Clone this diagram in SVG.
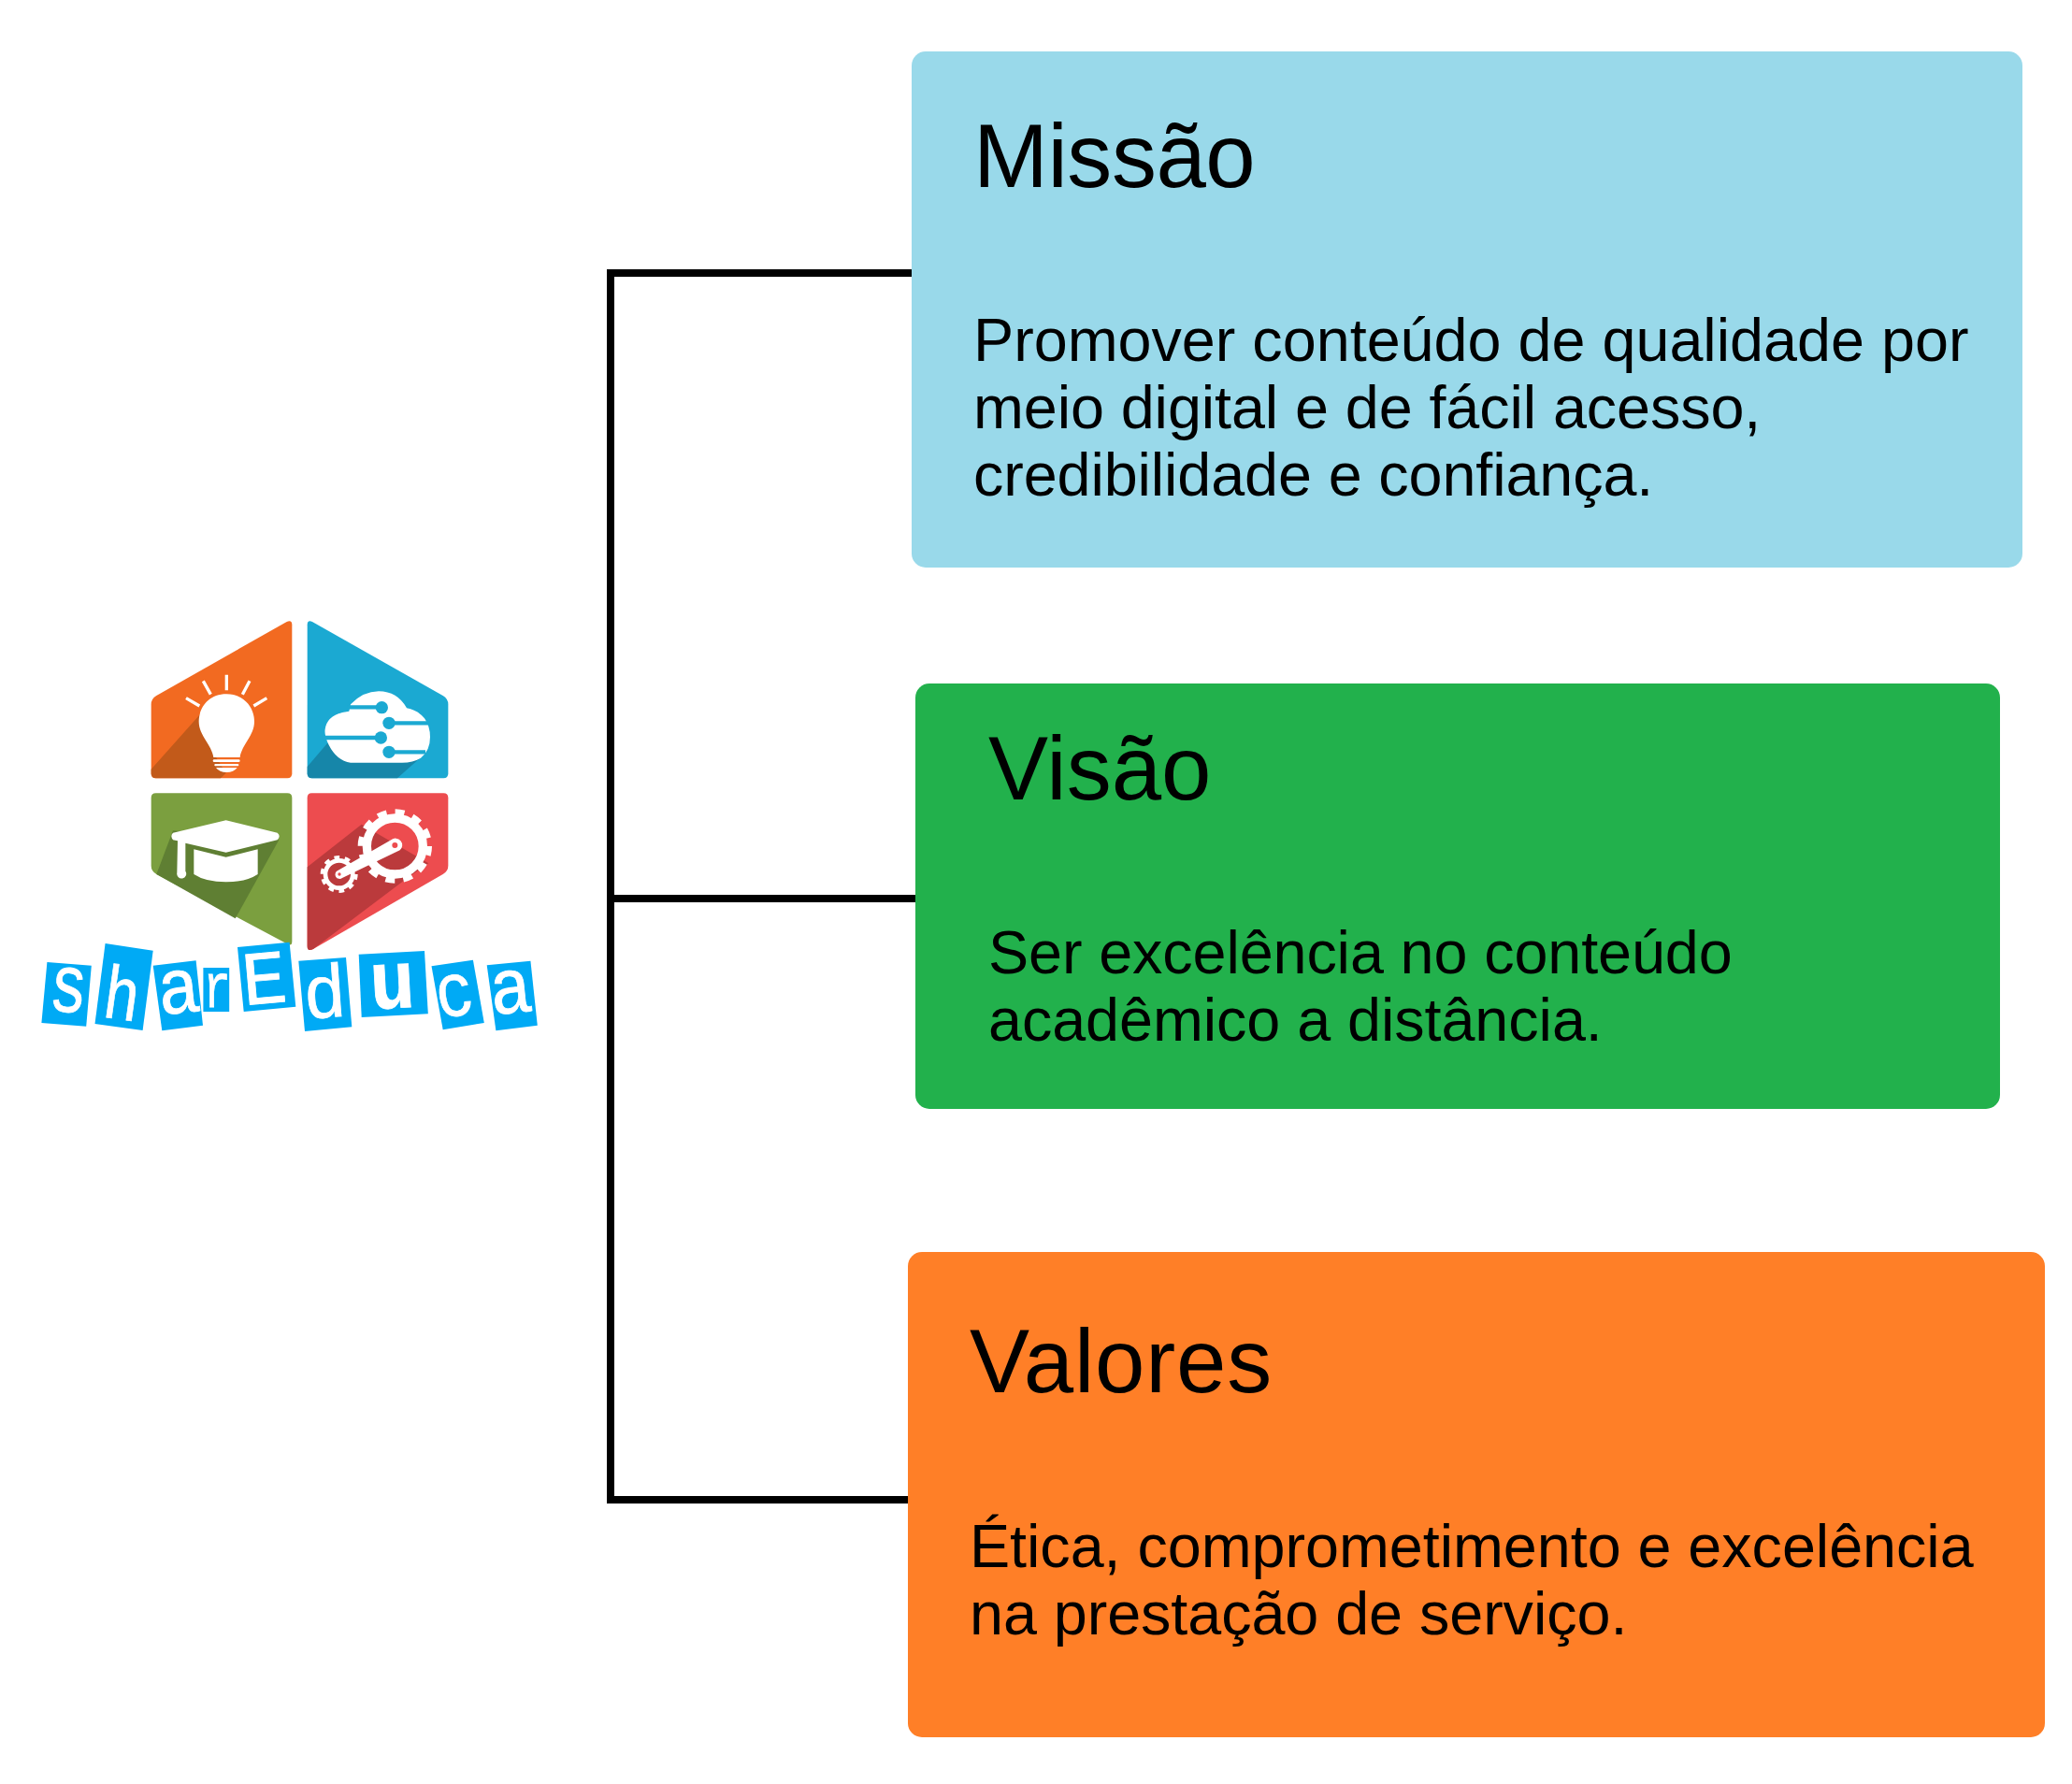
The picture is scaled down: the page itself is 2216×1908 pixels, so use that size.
<svg xmlns="http://www.w3.org/2000/svg" width="2216" height="1908" viewBox="0 0 2216 1908">
<style>
.t{font-family:"Liberation Sans",Arial,sans-serif;fill:#000}
.h{font-size:96px}
.b{font-size:64.7px}
.c{fill:none;stroke:#000;stroke-width:8}
.box{rx:15px}
.tile{fill:#00aaf5}
.l{font-family:"Liberation Mono","Courier New",monospace;fill:#fff;stroke:#fff;stroke-width:.8;text-anchor:middle;font-size:80px}
</style>
<rect width="2216" height="1908" fill="#fff"/>
<g id="connectors">
<path class="c" d="M975 292H653V1604H971"/>
<path class="c" d="M653 961H980"/>
</g>
<g id="logo">
<g transform="translate(130 640) scale(.33333)">
<path fill="#f26a21" d="M530 75Q547 68 547 85V562Q547 577 532 577H110Q95 577 95 562V340Q95 322 112 312Z"/>
<path fill="#c25a1a" d="M95 548L252 372L300 505L335 560L318 577H110Q95 577 95 562Z"/>
<g fill="none" stroke="#fff" stroke-width="10"><path d="M337 245V295M262 265L286 308M411 265L388 308M207 320L250 345M466 320L424 345"/></g>
<path fill="#fff" d="M337 307C275 307 248 355 248 395C248 440 290 470 295 510H380C385 470 426 440 426 395C426 355 398 307 337 307Z"/>
<g fill="#fff"><rect x="293" y="517" width="87" height="8" rx="4"/><rect x="298" y="531" width="78" height="7" rx="3"/><path d="M303 543H371Q360 558 337 558T303 543Z"/></g>
<path fill="#1ba9d2" d="M612 75Q596 68 596 85V562Q596 577 611 577H1033Q1048 577 1048 562V340Q1048 322 1031 312Z"/>
<path fill="#1686a9" d="M596 540L660 465L960 510L885 577H611Q596 577 596 562Z"/>
<path fill="#fff" d="M735 340Q775 298 825 298Q885 298 915 352Q950 358 972 385Q990 410 990 445Q990 490 960 512Q935 527 900 527H735Q690 520 665 470Q650 440 653 420Q660 370 730 362Z"/>
<g fill="none" stroke="#1ba9d2" stroke-width="13"><path d="M725 349H835M860 400H985M645 447H830M860 493H975"/></g>
<g fill="#1ba9d2"><circle cx="835" cy="350" r="20"/><circle cx="858" cy="400" r="20"/><circle cx="832" cy="447" r="20"/><circle cx="858" cy="493" r="20"/></g>
<path fill="#7b9f3f" d="M110 625H532Q547 625 547 640V1100Q547 1118 530 1108L112 885Q95 875 95 858V640Q95 625 110 625Z"/>
<path fill="#5f7f33" d="M112 885L165 745L505 775L365 1027Z"/>
<path fill="#fff" d="M335 712L500 752Q512 762 500 775L335 815L205 785V875A15 15 0 1 1 178 880L180 778L165 775Q155 762 165 752Z"/>
<path fill="#fff" d="M232 805L335 830L437 805V885Q400 910 335 910T232 885Z"/>
<path fill="#ed4c4f" d="M610 625H1033Q1048 625 1048 640V858Q1048 875 1031 885L615 1125Q596 1135 596 1115V640Q596 625 610 625Z"/>
<path fill="#bb3a3c" d="M596 862L770 725L985 850L920 895L615 1125Q596 1135 596 1115Z"/>
<circle cx="877" cy="795" r="90" fill="none" stroke="#fff" stroke-width="28"/>
<circle cx="877" cy="795" r="110" fill="none" stroke="#fff" stroke-width="18" stroke-dasharray="30 27.6"/>
<circle cx="698" cy="885" r="44" fill="none" stroke="#fff" stroke-width="14"/>
<circle cx="698" cy="885" r="54" fill="none" stroke="#fff" stroke-width="12" stroke-dasharray="17 16.9"/>
<path fill="#fff" d="M865 775A20 20 0 1 1 893 808L708 897A14 14 0 1 1 694 873Z"/>
<circle cx="877" cy="792" r="9" fill="#ed4c4f"/><circle cx="699" cy="885" r="5" fill="#ed4c4f"/>
</g>
<g>
<polygon class="tile" points="50.4,1029 97.8,1032.7 92.2,1097.7 44.4,1094"/>
<polygon class="tile" points="112.6,1009 163.7,1016.7 152.6,1102 101.5,1095"/>
<polygon class="tile" points="163.7,1032.7 209.6,1027.3 217,1096.7 173.3,1102.3"/>
<polygon class="tile" points="217.4,1035 245.2,1035 245.2,1082 217.4,1082"/>
<polygon class="tile" points="254,1013 309.6,1007.7 316.3,1076.7 260.7,1082"/>
<polygon class="tile" points="319.3,1027.7 370,1024 376.3,1098.3 326,1103"/>
<polygon class="tile" points="383.7,1020.7 454,1017 457.8,1084.3 386.7,1088"/>
<polygon class="tile" points="461.5,1033.3 505.9,1026.7 517.8,1094 473.7,1101.3"/>
<polygon class="tile" points="520.7,1032.3 567.4,1027.7 574.8,1096.7 530.4,1102.3"/>
<text class="l" transform="translate(71 1082) rotate(5) scale(.85 1.1)">s</text>
<text class="l" transform="translate(127 1090) rotate(8) scale(.8 1)">h</text>
<text class="l" transform="translate(194 1083) rotate(-6) scale(.95 1.05)">a</text>
<text class="l" transform="translate(232 1077) scale(.75 1)" style="font-size:66px">r</text>
<text class="l" transform="translate(285 1073) rotate(-5) scale(1 1.02)">E</text>
<text class="l" transform="translate(349 1088) rotate(-4) scale(.95 1)">d</text>
<text class="l" transform="translate(421 1078) rotate(-3) scale(1 1.1)" font-weight="700">u</text>
<text class="l" transform="translate(490 1086) rotate(-9) scale(.85 1.02)">c</text>
<text class="l" transform="translate(549 1083) rotate(-6) scale(.95 1.05)">a</text>
</g>
</g>
<g id="missao">
<rect class="box" x="975" y="55" width="1188" height="552" fill="#99d9ea"/>
<text class="t h" x="1041" y="200" letter-spacing="-.47">Missão</text>
<text class="t b" x="1041" y="386">Promover conteúdo de qualidade por</text>
<text class="t b" x="1041" y="458" letter-spacing="-.09">meio digital e de fácil acesso,</text>
<text class="t b" x="1041" y="530" letter-spacing="-.11">credibilidade e confiança.</text>
</g>
<g id="visao">
<rect class="box" x="979" y="731" width="1160" height="455" fill="#22b14c"/>
<text class="t h" x="1057" y="855">Visão</text>
<text class="t b" x="1057" y="1041" letter-spacing="-.11">Ser excelência no conteúdo</text>
<text class="t b" x="1057" y="1113" letter-spacing="-.06">acadêmico a distância.</text>
</g>
<g id="valores">
<rect class="box" x="971" y="1339" width="1216" height="519" fill="#ff7f27"/>
<text class="t h" x="1037" y="1489" letter-spacing=".8">Valores</text>
<text class="t b" x="1037" y="1676" letter-spacing="-.04">Ética, comprometimento e excelência</text>
<text class="t b" x="1037" y="1748" letter-spacing="-.06">na prestação de serviço.</text>
</g>
</svg>
